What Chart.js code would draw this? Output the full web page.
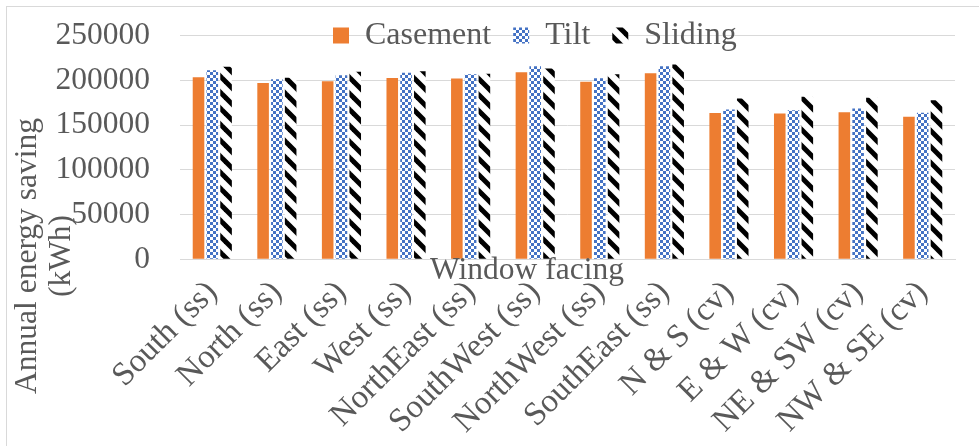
<!DOCTYPE html>
<html>
<head>
<meta charset="utf-8">
<script src="https://cdn.jsdelivr.net/npm/chart.js@4.4.1/dist/chart.umd.min.js"></script>
<style>
  html, body { margin: 0; padding: 0; background: #ffffff; }
  canvas { display: block; }
</style>
</head>
<body>
<canvas id="chart" width="979" height="446"></canvas>
<script>
// Window facing categories (ss = single side, cv = cross ventilation)
const categories = [
  'South (ss)', 'North (ss)', 'East (ss)', 'West (ss)',
  'NorthEast (ss)', 'SouthWest (ss)', 'NorthWest (ss)', 'SouthEast (ss)',
  'N & S (cv)', 'E & W (cv)', 'NE & SW (cv)', 'NW & SE (cv)'
];

// Annual energy saving (kWh) per window type
const casement = [203500, 196800, 198800, 202600, 202000, 208900, 198200, 207700, 163500, 163000, 164400, 159300];
const tilt     = [211300, 201200, 205500, 208500, 206700, 215700, 202300, 215700, 167400, 166600, 168500, 163600];
const sliding  = [215000, 202700, 209400, 210200, 207300, 213200, 206700, 217600, 179700, 181500, 180400, 177800];

const yTicks = [0, 50000, 100000, 150000, 200000, 250000];

const FONT = "'Liberation Serif', 'Times New Roman', Times, serif";
const TEXT = '#595959';
const GRID = '#d9d9d9';

// Fill patterns for the bars
function checkerPattern() {
  const c = document.createElement('canvas');
  c.width = 6; c.height = 6;
  const g = c.getContext('2d');
  g.fillStyle = '#ffffff';
  g.fillRect(0, 0, 6, 6);
  g.fillStyle = '#4472C4';
  g.fillRect(0, 0, 3, 3);
  g.fillRect(3, 3, 3, 3);
  return g.createPattern(c, 'repeat');
}

function diagonalPattern() {
  const s = 16;
  const c = document.createElement('canvas');
  c.width = s; c.height = s;
  const g = c.getContext('2d');
  g.fillStyle = '#ffffff';
  g.fillRect(0, 0, s, s);
  g.strokeStyle = '#000000';
  g.lineWidth = 5;
  g.lineCap = 'butt';
  for (let k = -1; k <= 1; k++) {
    g.beginPath();
    g.moveTo(k * s - 4, -4);
    g.lineTo(k * s + s + 4, s + 4);
    g.stroke();
  }
  return g.createPattern(c, 'repeat');
}

const LEGEND_PAD = 22;

// Frame, legend placement and axis titles
const decor = {
  id: 'decor',
  beforeDraw(chart) {
    const ctx = chart.ctx;
    ctx.save();
    ctx.fillStyle = '#ffffff';
    ctx.fillRect(0, 0, chart.width, chart.height);
    ctx.strokeStyle = GRID;
    ctx.lineWidth = 1;
    ctx.strokeRect(6.5, 6.5, chart.width + 10, chart.height + 10);
    ctx.restore();
  },
  afterLayout(chart) {
    // the legend row sits over the top gridline
    const lg = chart.legend;
    if (!lg || !lg.lineWidths) return;
    const curX = (lg.left + LEGEND_PAD + lg.right - lg.lineWidths[0]) / 2;
    const curY = lg.top + LEGEND_PAD + 16;
    const dx = 333 - curX;
    const dy = 35.5 - curY;
    lg.left += dx; lg.right += dx;
    lg.top += dy; lg.bottom += dy;
  },
  afterDraw(chart) {
    const ctx = chart.ctx;
    ctx.save();
    ctx.fillStyle = TEXT;
    ctx.font = '31.5px ' + FONT;
    ctx.textAlign = 'center';
    ctx.textBaseline = 'middle';
    // x-axis title
    ctx.fillText('Window facing', 527, 271);
    // y-axis title (two lines, rotated)
    ctx.translate(45, 256);
    ctx.rotate(-Math.PI / 2);
    ctx.fillText('Annual energy saving', 0, -17);
    ctx.fillText('(kWh)', 0, 17);
    ctx.restore();
  }
};

const tickFont = { family: FONT, size: 31.5 };

new Chart(document.getElementById('chart'), {
  type: 'bar',
  data: {
    labels: categories,
    datasets: [
      { label: 'Casement', data: casement, backgroundColor: '#ED7D31', borderWidth: 0 },
      { label: 'Tilt', data: tilt, backgroundColor: checkerPattern(), borderWidth: 0 },
      { label: 'Sliding', data: sliding, backgroundColor: diagonalPattern(), borderWidth: 0 }
    ]
  },
  options: {
    responsive: false,
    animation: false,
    devicePixelRatio: 1,
    categoryPercentage: 0.64,
    barPercentage: 0.84,
    layout: { padding: { top: -28.5, left: 0, right: 24, bottom: 0 } },
    plugins: {
      legend: {
        position: 'top',
        align: 'center',
        labels: {
          font: { family: FONT, size: 32 },
          color: TEXT,
          boxWidth: 16,
          boxHeight: 16,
          padding: LEGEND_PAD
        }
      },
      tooltip: { enabled: false }
    },
    scales: {
      x: {
        grid: { display: false },
        border: { color: GRID, width: 1 },
        ticks: {
          font: { family: FONT, size: 33 },
          color: TEXT,
          minRotation: 45,
          maxRotation: 45,
          autoSkip: false,
          padding: 6
        },
        afterFit(scale) { scale.height = 186.7; }
      },
      y: {
        min: 0,
        max: 250000,
        afterBuildTicks(scale) { scale.ticks = yTicks.map(v => ({ value: v })); },
        ticks: {
          font: tickFont,
          color: TEXT,
          padding: 0,
          callback: v => String(v)
        },
        grid: { color: GRID, lineWidth: 1, drawTicks: true, tickLength: 30, tickColor: 'rgba(0,0,0,0)' },
        border: { display: false },
        afterFit(scale) { scale.width = 180; }
      }
    }
  },
  plugins: [decor]
});
</script>
</body>
</html>
